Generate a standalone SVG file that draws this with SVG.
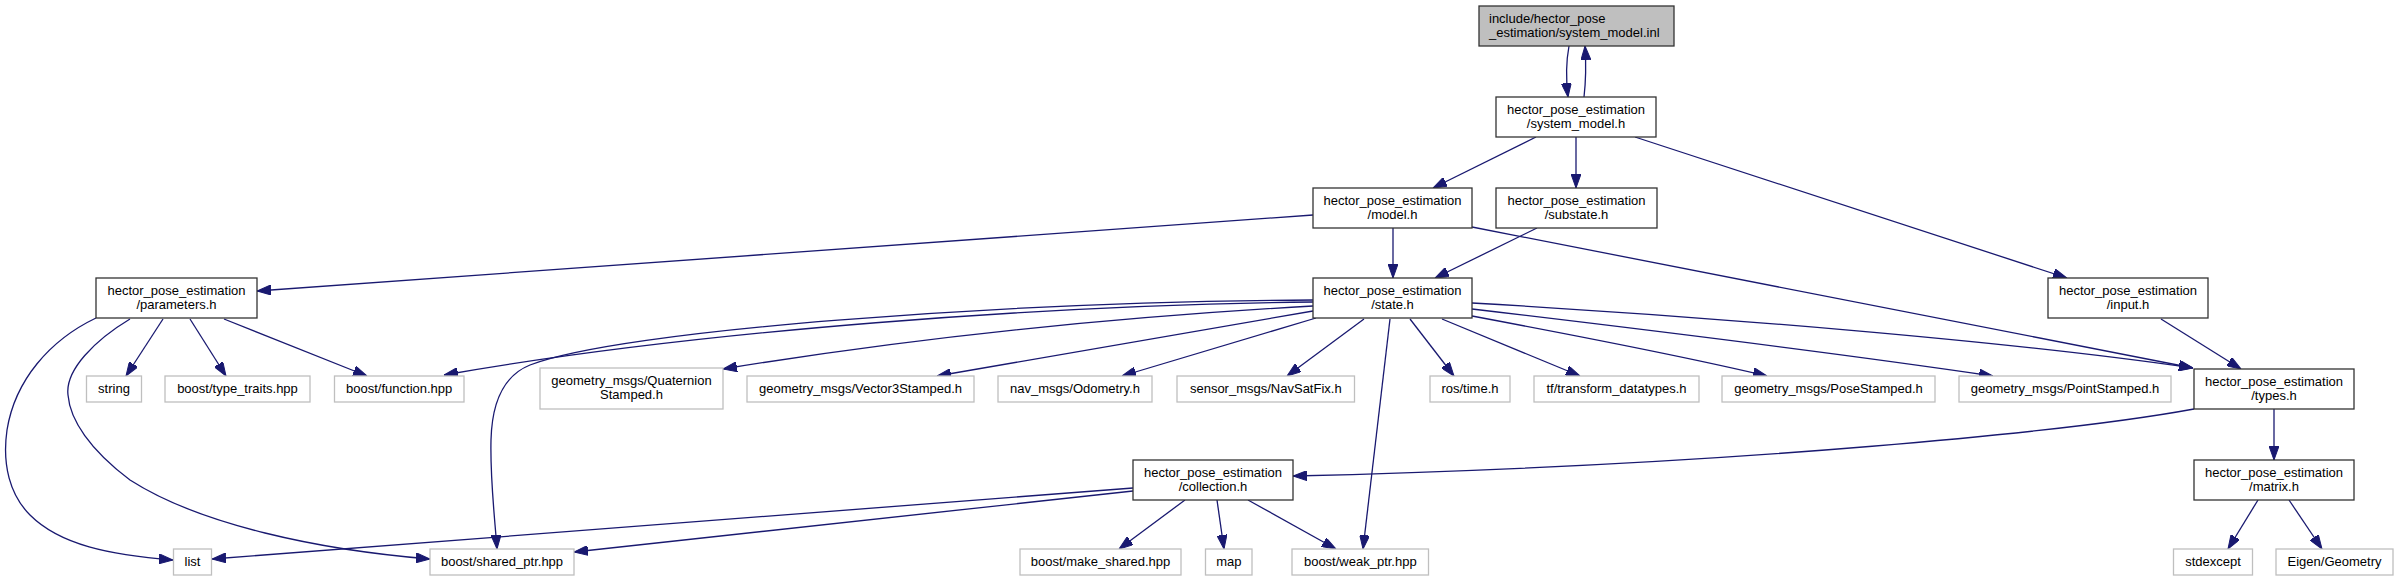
<svg xmlns="http://www.w3.org/2000/svg" width="2397" height="581" viewBox="0 0 2397 581">
<defs>
<marker id="arr" markerUnits="userSpaceOnUse" markerWidth="14" markerHeight="10" viewBox="0 0 14 10" refX="14" refY="5" orient="auto">
<path d="M0,0 L14,5 L0,10 Z" fill="#191970" stroke="#191970" stroke-width="1"/>
</marker>
</defs>
<style>
text{font-family:"Liberation Sans",Arial,Helvetica,sans-serif;font-size:13px;fill:#000}
.c{text-anchor:middle}
.n{fill:#fff;stroke:#333;stroke-width:1.3}
.r{fill:#bfbfbf;stroke:#333;stroke-width:1.3}
.x{fill:#fff;stroke:#bfbfbf;stroke-width:1.3}
.e{fill:none;stroke:#191970;stroke-width:1.3;marker-end:url(#arr)}
</style>
<rect width="2397" height="581" fill="#fff"/>
<g id="edges">
<path class="e" d="M1569,46 C1566,62 1566,80 1568,97"/>
<path class="e" d="M1584,97 C1586,80 1586,62 1585,46"/>
<path class="e" d="M1536,137 L1433,188"/>
<path class="e" d="M1576,137 L1576,188"/>
<path class="e" d="M1635,137 L2067,278"/>
<path class="e" d="M1313,215 L257,291"/>
<path class="e" d="M1393,228 L1393,278"/>
<path class="e" d="M1472,227 L2193,368"/>
<path class="e" d="M1537,228 L1435,278"/>
<path class="e" d="M2161,319 L2241,369"/>
<path class="e" d="M163,319 L126,376"/>
<path class="e" d="M190,319 L226,376"/>
<path class="e" d="M224,319 L367,376"/>
<path class="e" d="M96,318 C50,340 15,380 7,430 C2,465 10,495 30,515 C60,545 110,555 173,560"/>
<path class="e" d="M130,319 C95,340 65,370 68,395 C70,420 90,450 130,480 C200,525 320,550 430,559"/>
<path class="e" d="M1313,302 C1050,305 700,330 444,375"/>
<path class="e" d="M1313,300 C1000,302 620,330 530,365 C505,375 492,400 491,440 C490,480 495,520 497,549"/>
<path class="e" d="M1313,306 C1100,318 900,340 723,369"/>
<path class="e" d="M1313,311 L937,376"/>
<path class="e" d="M1316,318 L1122,376"/>
<path class="e" d="M1364,319 L1287,376"/>
<path class="e" d="M1390,319 L1363,549"/>
<path class="e" d="M1410,319 L1454,376"/>
<path class="e" d="M1442,319 L1580,376"/>
<path class="e" d="M1472,316 C1600,340 1700,360 1767,376"/>
<path class="e" d="M1472,309 C1650,330 1850,355 1993,376"/>
<path class="e" d="M1472,303 C1700,316 2000,340 2193,368"/>
<path class="e" d="M2194,409 C2080,430 1750,465 1293,476"/>
<path class="e" d="M2274,409 L2274,460"/>
<path class="e" d="M1133,488 L212,559"/>
<path class="e" d="M1133,491 L574,552"/>
<path class="e" d="M1185,500 L1119,549"/>
<path class="e" d="M1217,500 L1224,549"/>
<path class="e" d="M1248,500 L1336,549"/>
<path class="e" d="M2258,500 L2228,549"/>
<path class="e" d="M2289,500 L2322,549"/>
</g>
<g id="node-system_model_inl"><rect class="r" x="1479" y="6" width="195" height="40"/><text x="1489" y="23">include/hector_pose</text><text x="1489" y="37">_estimation/system_model.inl</text></g>
<g id="node-system_model_h"><rect class="n" x="1496" y="97" width="160" height="40"/><text class="c" x="1576" y="114">hector_pose_estimation</text><text class="c" x="1576" y="128">/system_model.h</text></g>
<g id="node-model_h"><rect class="n" x="1313" y="188" width="159" height="40"/><text class="c" x="1392.5" y="205">hector_pose_estimation</text><text class="c" x="1392.5" y="219">/model.h</text></g>
<g id="node-substate_h"><rect class="n" x="1496" y="188" width="161" height="40"/><text class="c" x="1576.5" y="205">hector_pose_estimation</text><text class="c" x="1576.5" y="219">/substate.h</text></g>
<g id="node-state_h"><rect class="n" x="1313" y="278" width="159" height="40"/><text class="c" x="1392.5" y="295">hector_pose_estimation</text><text class="c" x="1392.5" y="309">/state.h</text></g>
<g id="node-parameters_h"><rect class="n" x="96" y="278" width="161" height="40"/><text class="c" x="176.5" y="295">hector_pose_estimation</text><text class="c" x="176.5" y="309">/parameters.h</text></g>
<g id="node-input_h"><rect class="n" x="2048" y="278" width="160" height="40"/><text class="c" x="2128" y="295">hector_pose_estimation</text><text class="c" x="2128" y="309">/input.h</text></g>
<g id="node-types_h"><rect class="n" x="2194" y="369" width="160" height="40"/><text class="c" x="2274" y="386">hector_pose_estimation</text><text class="c" x="2274" y="400">/types.h</text></g>
<g id="node-collection_h"><rect class="n" x="1133" y="460" width="160" height="40"/><text class="c" x="1213" y="477">hector_pose_estimation</text><text class="c" x="1213" y="491">/collection.h</text></g>
<g id="node-matrix_h"><rect class="n" x="2194" y="460" width="160" height="40"/><text class="c" x="2274" y="477">hector_pose_estimation</text><text class="c" x="2274" y="491">/matrix.h</text></g>
<g id="node-quaternion"><rect class="x" x="540" y="368" width="183" height="41"/><text class="c" x="631.5" y="385">geometry_msgs/Quaternion</text><text class="c" x="631.5" y="399">Stamped.h</text></g>
<g id="node-string"><rect class="x" x="86.5" y="376" width="55" height="26"/><text class="c" x="114" y="393">string</text></g>
<g id="node-type_traits"><rect class="x" x="165" y="376" width="145" height="26"/><text class="c" x="237.5" y="393">boost/type_traits.hpp</text></g>
<g id="node-function"><rect class="x" x="334.5" y="376" width="129.5" height="26"/><text class="c" x="399.2" y="393">boost/function.hpp</text></g>
<g id="node-vector3"><rect class="x" x="747" y="376" width="227" height="26"/><text class="c" x="860.5" y="393">geometry_msgs/Vector3Stamped.h</text></g>
<g id="node-odometry"><rect class="x" x="998" y="376" width="154" height="26"/><text class="c" x="1075" y="393">nav_msgs/Odometry.h</text></g>
<g id="node-navsatfix"><rect class="x" x="1177" y="376" width="177.5" height="26"/><text class="c" x="1265.8" y="393">sensor_msgs/NavSatFix.h</text></g>
<g id="node-ros_time"><rect class="x" x="1430" y="376" width="80" height="26"/><text class="c" x="1470" y="393">ros/time.h</text></g>
<g id="node-tf"><rect class="x" x="1534" y="376" width="165" height="26"/><text class="c" x="1616.5" y="393">tf/transform_datatypes.h</text></g>
<g id="node-posestamped"><rect class="x" x="1722" y="376" width="213" height="26"/><text class="c" x="1828.5" y="393">geometry_msgs/PoseStamped.h</text></g>
<g id="node-pointstamped"><rect class="x" x="1959" y="376" width="212" height="26"/><text class="c" x="2065" y="393">geometry_msgs/PointStamped.h</text></g>
<g id="node-list"><rect class="x" x="173.5" y="549" width="38" height="26"/><text class="c" x="192.5" y="566">list</text></g>
<g id="node-shared_ptr"><rect class="x" x="430" y="549" width="144" height="26"/><text class="c" x="502" y="566">boost/shared_ptr.hpp</text></g>
<g id="node-make_shared"><rect class="x" x="1020" y="549" width="161" height="26"/><text class="c" x="1100.5" y="566">boost/make_shared.hpp</text></g>
<g id="node-map"><rect class="x" x="1205.5" y="549" width="46.5" height="26"/><text class="c" x="1228.8" y="566">map</text></g>
<g id="node-weak_ptr"><rect class="x" x="1292" y="549" width="136.5" height="26"/><text class="c" x="1360.3" y="566">boost/weak_ptr.hpp</text></g>
<g id="node-stdexcept"><rect class="x" x="2173.5" y="549" width="79" height="26"/><text class="c" x="2213" y="566">stdexcept</text></g>
<g id="node-eigen"><rect class="x" x="2276" y="549" width="117" height="26"/><text class="c" x="2334.5" y="566">Eigen/Geometry</text></g>
</svg>
